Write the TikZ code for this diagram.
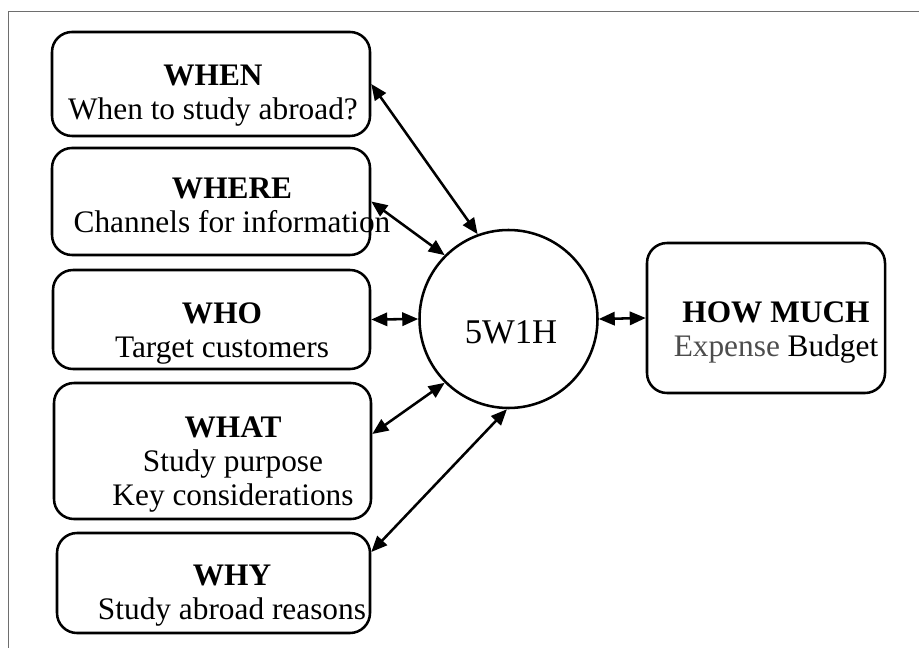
\documentclass[tikz,border=0pt]{standalone}
\usepackage{fontspec}
\setmainfont{Liberation Serif}
\usetikzlibrary{arrows.meta,calc}

\definecolor{framegray}{RGB}{110,110,110}
\definecolor{expgray}{RGB}{77,77,77}

\tikzset{every picture/.style={line width=0.75pt}}
\tikzset{
  rbox/.style={draw, line width=1.9pt, rounded corners=15pt, inner sep=0pt},
  hub/.style={draw, circle, line width=1.9pt, inner sep=0pt, minimum size=133.5pt},
  lbl/.style={inner sep=0pt, align=center, anchor=base, font=\fontsize{23.5}{25.5}\selectfont},
  twoway/.style={{Triangle[length=12pt,width=10pt]}-{Triangle[length=12pt,width=10pt]}, line width=1.9pt},
}

\begin{document}
\begin{tikzpicture}[x=0.75pt,y=0.75pt,yscale=-1,xscale=1]
\useasboundingbox (0,0) rectangle (919,648);

%Shape: Frame
\draw [color=framegray] (8,648) -- (8,12) -- (919,12) ;

%Shape: Rounded Rect
\node [rbox, minimum width=238.5pt, minimum height=78pt] (when) at (211,84) {};
%Shape: Rounded Rect
\node [rbox, minimum width=238.5pt, minimum height=80.25pt] (where) at (211,201.5) {};
%Shape: Rounded Rect
\node [rbox, minimum width=237.75pt, minimum height=74.25pt] (who) at (211.5,319.5) {};
%Shape: Rounded Rect
\node [rbox, minimum width=237.75pt, minimum height=102pt] (what) at (212.5,451) {};
%Shape: Rounded Rect
\node [rbox, minimum width=234.75pt, minimum height=75pt] (why) at (213.5,583) {};
%Shape: Rounded Rect
\node [rbox, minimum width=178.5pt, minimum height=112.5pt] (howmuch) at (766,318) {};
%Shape: Circle
\node [hub] (hub) at (508.5,319) {};

%Straight Lines
\draw [twoway] (when.east) -- (hub.110) ;
\draw [twoway] (where.east) -- (hub.135) ;
\draw [twoway] (who.east) -- (hub.180) ;
\draw [twoway] ($(what.east)+(0,-17)$) -- (hub.225) ;
\draw [twoway] ($(why.east)+(0,-31)$) -- (hub.269) ;
\draw [twoway] (hub.0) -- (howmuch.west) ;

% Text Node
\node [lbl] (when-t) at (213,120) {\textbf{WHEN}\\When to study abroad?};
% Text Node
\node [lbl] (where-t) at (232,233) {\textbf{WHERE}\\Channels for information};
% Text Node
\node [lbl] (who-t) at (222,357) {\textbf{WHO}\\Target customers};
% Text Node
\node [lbl] (what-t) at (233,505) {\textbf{WHAT}\\Study purpose\\Key considerations};
% Text Node
\node [lbl] (why-t) at (232,619) {\textbf{WHY}\\Study abroad reasons};
% Text Node
\node [lbl] (howmuch-t) at (776,356) {\textbf{HOW MUCH}\\{\color{expgray}Expense} Budget};
% Text Node
\node [lbl, font=\fontsize{26}{28}\selectfont] (hub-t) at (511,343) {5W1H};

\end{tikzpicture}
\end{document}
